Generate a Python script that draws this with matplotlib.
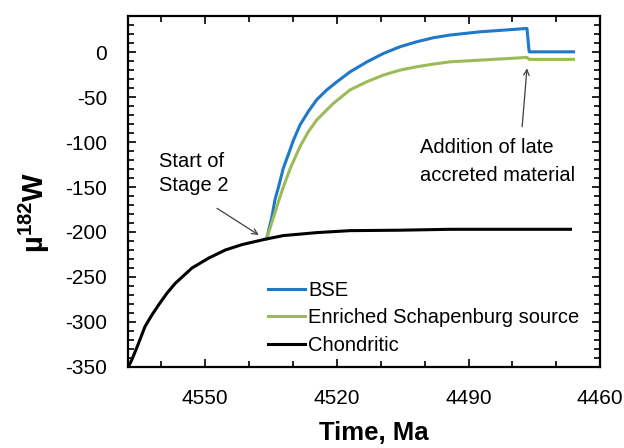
import matplotlib
matplotlib.use('Agg')
import matplotlib.pyplot as plt
from matplotlib.ticker import MultipleLocator, FixedLocator

plt.rcParams['font.family'] = ['Liberation Sans', 'DejaVu Sans']
plt.rcParams['axes.unicode_minus'] = False
plt.rcParams['mathtext.fontset'] = 'custom'
plt.rcParams['mathtext.bf'] = 'Liberation Sans:bold'
plt.rcParams['mathtext.rm'] = 'Liberation Sans'

# chondritic evolution (time in Ma, mu182W)
chon_t = [4567.3, 4566.7, 4565.2, 4563.7, 4562.1, 4560.6, 4558.7, 4556.8, 4553.0,
          4549.2, 4545.4, 4541.6, 4536.3, 4532.2, 4524.6, 4517.0, 4505.6, 4494.2, 4466.8]
chon_v = [-348, -342, -324, -305, -292, -281, -268, -257, -240,
          -229, -220, -214, -208, -204, -200.7, -198.5, -198, -197, -197]

# BSE
bse_t = [4536.0, 4534.8, 4534.1, 4533.3, 4532.2, 4531.0, 4529.9, 4528.4, 4526.5,
         4524.6, 4522.3, 4520.0, 4517.0, 4513.2, 4509.4, 4505.6, 4501.8, 4498.0,
         4494.2, 4487.3, 4476.7, 4476.2, 4466.1]
bse_v = [-207.5, -183, -164, -150, -129, -113, -98, -81, -66,
         -53, -42, -33, -22, -11, -1.5, 6, 11.5, 16,
         19, 22.6, 26.3, 0.3, 0.3]

# enriched Schapenburg source
esc_t = [4536.0, 4534.4, 4533.3, 4532.2, 4530.6, 4528.4, 4526.5, 4524.6, 4520.8,
         4517.0, 4513.2, 4509.4, 4505.6, 4501.8, 4498.0, 4494.2, 4487.3, 4476.7,
         4476.2, 4466.1]
esc_v = [-207.5, -183, -166, -150, -129, -105, -88.5, -75.5, -57,
         -42, -33, -25.5, -20, -16.3, -13.3, -10.8, -8.9, -5.9,
         -8.1, -8.1]

fig = plt.figure(figsize=(6.24, 4.48), dpi=100)
ax = fig.add_axes([0.205, 0.181, 0.757, 0.783])

ax.plot(bse_t, bse_v, color='#1f78c8', linewidth=2.2, label='BSE')
ax.plot(esc_t, esc_v, color='#9bbb59', linewidth=2.2, label='Enriched Schapenburg source')
ax.plot(chon_t, chon_v, color='black', linewidth=2.2, label='Chondritic')

ax.set_xlim(4567.6, 4460)
ax.set_ylim(-350, 40)

ax.xaxis.set_major_locator(FixedLocator([4550, 4520, 4490, 4460]))
ax.xaxis.set_minor_locator(MultipleLocator(10))
ax.set_yticks([0, -50, -100, -150, -200, -250, -300, -350])
ax.yaxis.set_minor_locator(MultipleLocator(10))
ax.tick_params(which='both', direction='in', top=True, right=True, width=1.2)
ax.tick_params(which='major', length=6, labelsize=15)
ax.tick_params(which='minor', length=4)
ax.tick_params(axis='x', which='major', pad=16)
ax.tick_params(axis='y', which='major', pad=15)
for s in ax.spines.values():
    s.set_linewidth(1.6)

ax.set_xlabel('Time, Ma', fontsize=18.5, fontweight='bold')
ax.xaxis.set_label_coords(0.52, -0.155)
ax.set_ylabel(r'µ$^{\mathbf{182}}$W', fontsize=21, fontweight='bold')
ax.yaxis.set_label_coords(-0.16, 0.44)

# annotations: text and arrows drawn separately
arrow = dict(arrowstyle='->', color='#404040', lw=0.9, shrinkA=0, shrinkB=0)
ax.text(4560.5, -111, 'Start of\nStage 2', fontsize=14.5, ha='left', va='top',
        linespacing=1.35)
ax.annotate('', xy=(4537.8, -203.3), xytext=(4547.3, -173.7), arrowprops=arrow)
ax.text(4501.0, -95, 'Addition of late\naccreted material', fontsize=14.5,
        ha='left', va='top', linespacing=1.6)
ax.annotate('', xy=(4476.7, -18.1), xytext=(4477.8, -83), arrowprops=arrow)

ax.legend(loc='lower left', bbox_to_anchor=(0.297, 0.035), frameon=False,
          fontsize=14.5, handlelength=1.85, handletextpad=0.15, labelspacing=0.42,
          borderpad=0, borderaxespad=0)

fig.savefig('out.png', dpi=100)
